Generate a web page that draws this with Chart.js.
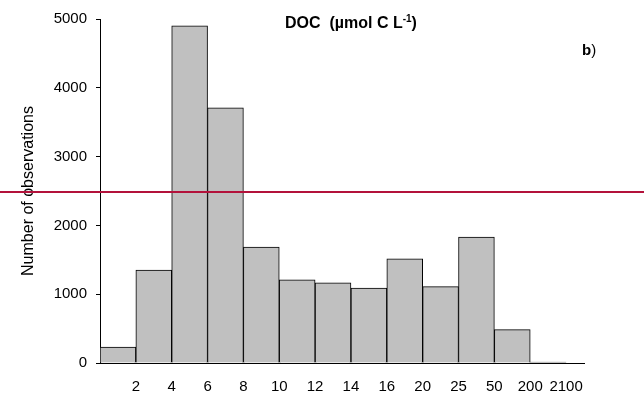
<!DOCTYPE html>
<html>
<head>
<meta charset="utf-8">
<title>DOC histogram</title>
<script src="https://cdn.jsdelivr.net/npm/chart.js@4/dist/chart.umd.min.js"></script>
<style>
  html, body { margin: 0; padding: 0; background: #fff; }
  #wrap { width: 644px; height: 399px; }
</style>
</head>
<body>
<div id="wrap"><canvas id="c" width="644" height="399"></canvas></div>
<script>
// Upper edges of the DOC concentration classes (µmol C L-1)
const binEdges = ['2', '4', '6', '8', '10', '12', '14', '16', '20', '25', '50', '200', '2100'];
// Number of observations in each class
const counts = [230, 1350, 4900, 3710, 1685, 1210, 1165, 1090, 1515, 1110, 1830, 485, 15];
// Y axis range and step
const yTicks = [0, 1000, 2000, 3000, 4000, 5000];
// Horizontal reference level
const referenceLevel = 2485;

const FONT = "'Liberation Sans', Arial, sans-serif";

// Each class is one unit wide on a linear axis; bars sit at the class centres
const barPoints = counts.map((v, i) => ({ x: i + 0.5, y: v }));

const annotations = {
  id: 'annotations',
  afterDatasetsDraw(chart) {
    const ctx = chart.ctx;
    const y = chart.scales.y.getPixelForValue(referenceLevel);
    ctx.save();
    ctx.strokeStyle = '#b3123b';
    ctx.lineWidth = 2;
    ctx.beginPath();
    ctx.moveTo(0, y);
    ctx.lineTo(chart.width, y);
    ctx.stroke();
    ctx.restore();
  },
  afterDraw(chart) {
    const ctx = chart.ctx;
    ctx.save();
    ctx.fillStyle = '#000';
    ctx.textBaseline = 'alphabetic';

    // Title with superscript
    const main = 'DOC  (µmol C L';
    const sup = '-1';
    const close = ')';
    const big = 'bold 16px ' + FONT;
    const small = 'bold 10px ' + FONT;
    ctx.font = big;
    const w1 = ctx.measureText(main).width;
    const w3 = ctx.measureText(close).width;
    ctx.font = small;
    const w2 = ctx.measureText(sup).width;
    const total = w1 + w2 + w3;
    const cx = (chart.chartArea.left + chart.chartArea.right) / 2 + 9;
    let x = cx - total / 2;
    const base = 28;
    ctx.font = big;
    ctx.fillText(main, x, base);
    x += w1;
    ctx.font = small;
    ctx.fillText(sup, x, base - 6);
    x += w2;
    ctx.font = big;
    ctx.fillText(close, x, base);

    // Panel letter
    let px = 582;
    ctx.font = 'bold 15px ' + FONT;
    ctx.fillText('b', px, 55);
    px += ctx.measureText('b').width;
    ctx.font = '15px ' + FONT;
    ctx.fillText(')', px, 55);
    ctx.restore();
  }
};

new Chart(document.getElementById('c'), {
  type: 'bar',
  data: {
    datasets: [{
      data: barPoints,
      backgroundColor: '#c0c0c0',
      borderColor: '#000',
      borderWidth: { top: 1, left: 1, right: 1, bottom: 0 },
      borderSkipped: false,
      barPercentage: 1,
      categoryPercentage: 1
    }]
  },
  options: {
    responsive: false,
    animation: false,
    devicePixelRatio: 1,
    layout: { padding: { top: 19, right: 60, left: 0, bottom: 0 } },
    plugins: {
      legend: { display: false },
      title: { display: false },
      tooltip: { enabled: false }
    },
    scales: {
      x: {
        type: 'linear',
        offset: false,
        min: 0,
        max: binEdges.length + 0.5,
        afterFit(scale) { scale.height = 36; },
        grid: { display: false, drawTicks: false, offset: false },
        border: { display: true, color: '#000', width: 1 },
        ticks: {
          stepSize: 1,
          includeBounds: false,
          autoSkip: false,
          maxRotation: 0,
          padding: 15,
          color: '#000',
          font: { family: FONT, size: 15 },
          callback(v) {
            return Number.isInteger(v) && v >= 1 && v <= binEdges.length ? binEdges[v - 1] : '';
          }
        }
      },
      y: {
        min: yTicks[0],
        max: yTicks[yTicks.length - 1],
        afterFit(scale) { scale.width = 100; },
        grid: { display: true, drawOnChartArea: false, drawTicks: true, tickLength: 4, color: '#000', lineWidth: 1 },
        border: { display: true, color: '#000', width: 1 },
        afterBuildTicks(scale) { scale.ticks = yTicks.map(v => ({ value: v })); },
        ticks: {
          padding: 9,
          color: '#000',
          font: { family: FONT, size: 15 },
          callback(v) { return String(v); }
        },
        title: {
          display: true,
          text: 'Number of observations',
          color: '#000',
          font: { family: FONT, size: 16 },
          padding: { top: 19, bottom: 0 }
        }
      }
    }
  },
  plugins: [annotations]
});
</script>
</body>
</html>
